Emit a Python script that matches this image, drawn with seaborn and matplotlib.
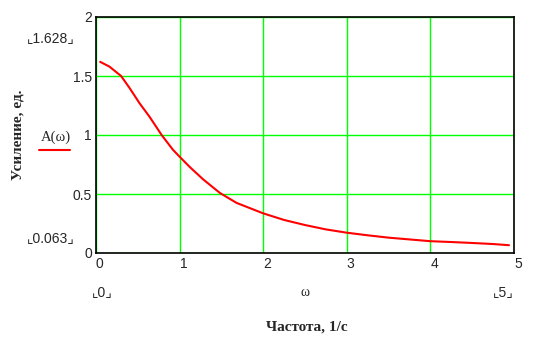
import matplotlib
matplotlib.use("Agg")
import matplotlib.pyplot as plt
import seaborn as sns
import pandas as pd

# Data
omega = [0.05, 0.16, 0.30, 0.40, 0.52, 0.64, 0.785, 0.92, 1.0, 1.12, 1.28, 1.48, 1.68,
         2.0, 2.25, 2.5, 2.75, 3.0, 3.25, 3.5, 3.75, 4.0, 4.25, 4.5, 4.75, 4.94]
gain = [1.62, 1.58, 1.50, 1.40, 1.27, 1.155, 1.0, 0.875, 0.816, 0.73, 0.625, 0.51, 0.425,
        0.336, 0.28, 0.237, 0.20, 0.172, 0.15, 0.13, 0.115, 0.10, 0.093, 0.085, 0.076, 0.066]
x_ticks = [0, 1, 2, 3, 4, 5]
y_ticks = [0, 0.5, 1, 1.5, 2]
y_tick_labels = ["0", "0.5", "1", "1.5", "2"]
y_max_label = "1.628"
y_min_label = "0.063"
x_min_label = "0"
x_max_label = "5"
legend_label = "A(ω)"
x_var = "ω"
x_title = "Частота, 1/с"
y_title = "Усиление, ед."

sns.set_style("white")
plt.rcParams["font.family"] = ["Liberation Sans", "DejaVu Sans"]

df = pd.DataFrame({"omega": omega, "gain": gain})

fig = plt.figure(figsize=(5.35, 3.37), dpi=100)
ax = fig.add_axes([96 / 535, 1 - 253 / 337, 418 / 535, 236 / 337])

sns.lineplot(data=df, x="omega", y="gain", ax=ax, color="#ff0000", linewidth=1.5, zorder=3)

ax.set_xlim(0, 5)
ax.set_ylim(0, 2)
ax.set_xticks(x_ticks)
ax.set_xticklabels([str(t) for t in x_ticks], fontsize=10)
ax.set_yticks(y_ticks)
ax.set_yticklabels(y_tick_labels, fontsize=10)
for lbl in ax.get_xticklabels():
    lbl.set_ha("left")
ax.tick_params(axis="both", length=0, pad=3)
ax.grid(True, color="#00ff00", linewidth=1.0, zorder=1)
ax.set_axisbelow(True)
for s in ax.spines.values():
    s.set_color("black")
    s.set_linewidth(1.2)
    s.set_visible(True)
ax.set_xlabel("")
ax.set_ylabel("")

fam = ["Liberation Sans", "DejaVu Sans"]
def px(x, y):
    return x / 535, 1 - y / 337

fig.text(*px(51, 38), "⌞" + y_max_label + "⌟", fontsize=10, ha="center", va="center", family=fam)
fig.text(*px(51, 238), "⌞" + y_min_label + "⌟", fontsize=10, ha="center", va="center", family=fam)
fig.text(*px(102, 292), "⌞" + x_min_label + "⌟", fontsize=10, ha="center", va="center", family=fam)
fig.text(*px(503, 292), "⌞" + x_max_label + "⌟", fontsize=10, ha="center", va="center", family=fam)
fig.text(*px(305, 292), x_var, fontsize=10, ha="center", va="center", family=["Liberation Serif", "DejaVu Serif"])
fig.text(*px(56, 137), legend_label, fontsize=10.5, ha="center", va="center", family=["Liberation Serif", "DejaVu Serif"])
fig.add_artist(plt.Line2D([39 / 535, 70 / 535], [1 - 150 / 337, 1 - 150 / 337], color="#ff0000", linewidth=1.5))

fig.text(*px(307, 327), x_title, fontsize=11, fontweight="bold", ha="center", va="center",
         family=["Liberation Serif", "DejaVu Serif"])
fig.text(*px(18, 135), y_title, fontsize=11, fontweight="bold", ha="center", va="center",
         rotation=90, family=["Liberation Serif", "DejaVu Serif"])

fig.savefig("out.png", dpi=100)
